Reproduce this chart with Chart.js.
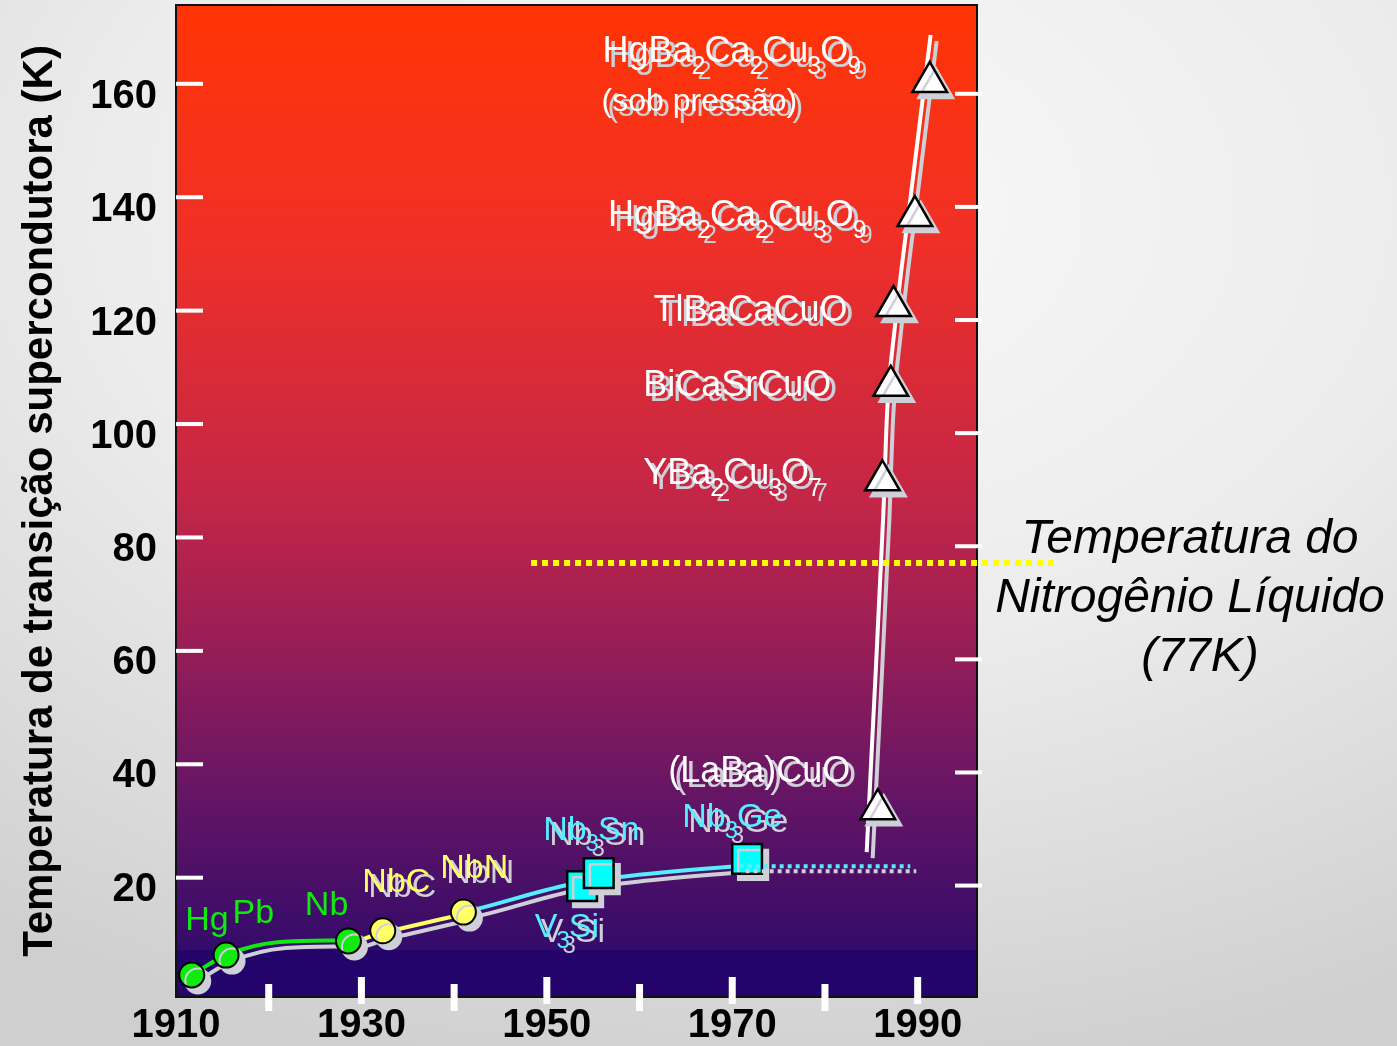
<!DOCTYPE html>
<html>
<head>
<meta charset="utf-8">
<script src="https://cdn.jsdelivr.net/npm/chart.js@4.4.0/dist/chart.umd.min.js"></script>
<style>
html, body { margin: 0; padding: 0; }
body {
    width: 1397px; height: 1046px; overflow: hidden;
    background: radial-gradient(ellipse 95% 85% at 55% 20%, #f9f9f9 0%, #ececec 50%, #cfcfcf 100%);
}
canvas { display: block; }
</style>
</head>
<body>
<canvas id="tcChart" width="1397" height="1046"></canvas>
<script>
// axis ticks
var yTickValues = [20, 40, 60, 80, 100, 120, 140, 160];
var xTickValues = [1910, 1930, 1950, 1970, 1990];
var xMajorMarks = [1930, 1950, 1970, 1990];
var xMinorMarks = [1920, 1940, 1960, 1980];

// metals (green circles)
var metalNames = ['Hg', 'Pb', 'Nb'];
var metalYears = [1911.7, 1915.4, 1928.6];
var metalTc = [4.9, 8.4, 10.9];

// carbide / nitride (yellow circles)
var nitrideNames = ['NbC', 'NbN'];
var nitrideYears = [1932.3, 1941.0];
var nitrideTc = [12.7, 16.0];

// A15 compounds (cyan squares)
var a15Names = ['V_3Si', 'Nb_3Sn', 'Nb_3Ge'];
var a15Years = [1953.8, 1955.6, 1971.6];
var a15Tc = [20.6, 22.9, 25.4];

// cuprates (white triangles)
var cuprateNames = ['(LaBa)CuO', 'YBa_2Cu_3O_7', 'BiCaSrCuO', 'TlBaCaCuO', 'HgBa_2Ca_2Cu_3O_9', 'HgBa_2Ca_2Cu_3O_9'];
var cuprateYears = [1985.7, 1986.2, 1987.1, 1987.4, 1989.7, 1991.3];
var cuprateTc = [34.2, 92.3, 109.0, 123.1, 139.0, 162.7];

// hand drawn trend curves
var metalCurveYears = [1911.7, 1915.4, 1921.2, 1928.0];
var metalCurveTc = [4.9, 8.4, 10.7, 11.0];
var nitrideCurveYears = [1929.1, 1932.3, 1934.5, 1940.6];
var nitrideCurveTc = [10.6, 12.4, 13.2, 15.5];
var a15CurveYears = [1941.0, 1942.8, 1952.2, 1957.9, 1969.8, 1971.6];
var a15CurveTc = [16.0, 16.7, 20.8, 22.2, 24.0, 24.2];
var cuprateCurveYears = [1984.5, 1985.1, 1986.3, 1986.7, 1987.5, 1989.4, 1991.4];
var cuprateCurveTc = [26.6, 46.4, 86.5, 104.2, 118.8, 144.5, 171.0];

// dotted levels
var a15LevelYears = [1970.8, 1989.2];
var a15LevelTc = [24.1, 24.1];
var nitrogenYears = [1948.3, 2004.7];
var nitrogenTc = [77.7, 77.7];

var FONT = '"Liberation Sans", Arial, Helvetica, sans-serif';
var SHADOW = '#cfcfd8';

function pts(xs, ys) {
    return xs.map(function (x, i) { return { x: x, y: ys[i] }; });
}

// text labels placed in data units (left edge, baseline)
var labelItems = [
    { text: metalNames[0], x: 1911.0, y: 12.8, color: '#10ea10', size: 34, shadow: false },
    { text: metalNames[1], x: 1916.1, y: 14.1, color: '#10ea10', size: 34, shadow: false },
    { text: metalNames[2], x: 1923.9, y: 15.5, color: '#10ea10', size: 34, shadow: false },
    { text: nitrideNames[0], x: 1930.1, y: 19.6, color: '#ffff66', size: 34, shadow: true },
    { text: nitrideNames[1], x: 1938.5, y: 22.0, color: '#ffff66', size: 34, shadow: true },
    { text: a15Names[0], x: 1948.7, y: 11.6, color: '#55eeff', size: 34, shadow: true },
    { text: a15Names[1], x: 1949.6, y: 28.7, color: '#55eeff', size: 34, shadow: true },
    { text: a15Names[2], x: 1964.6, y: 31.0, color: '#55eeff', size: 34, shadow: true },
    { text: cuprateNames[0], x: 1963.1, y: 39.0, color: '#ffffff', size: 36, shadow: true },
    { text: cuprateNames[1], x: 1960.4, y: 91.6, color: '#ffffff', size: 36, shadow: true },
    { text: cuprateNames[2], x: 1960.4, y: 107.2, color: '#ffffff', size: 36, shadow: true },
    { text: cuprateNames[3], x: 1961.5, y: 120.4, color: '#ffffff', size: 36, shadow: true },
    { text: cuprateNames[4], x: 1956.6, y: 137.2, color: '#ffffff', size: 36, shadow: true },
    { text: cuprateNames[5], x: 1956.0, y: 166.2, color: '#ffffff', size: 36, shadow: true },
    { text: '(sob pressão)', x: 1955.9, y: 157.5, color: '#ffffff', size: 32, shadow: true }
];

function drawFormula(ctx, text, x, y, size, color) {
    var re = /_(\d)|[^_]+/g, m;
    ctx.fillStyle = color;
    ctx.textAlign = 'left';
    ctx.textBaseline = 'alphabetic';
    while ((m = re.exec(text)) !== null) {
        if (m[1]) {
            var sub = Math.round(size * 0.7);
            ctx.font = sub + 'px ' + FONT;
            ctx.fillText(m[1], x - 1, y + size * 0.32);
            x += ctx.measureText(m[1]).width - 2;
        } else {
            ctx.font = size + 'px ' + FONT;
            ctx.fillText(m[0], x, y);
            x += ctx.measureText(m[0]).width;
        }
    }
}

var backdropPlugin = {
    id: 'backdrop',
    beforeDraw: function (chart) {
        var a = chart.chartArea, ctx = chart.ctx;
        var band = a.bottom - 47;
        var g = ctx.createLinearGradient(0, a.top, 0, band);
        g.addColorStop(0.00, 'rgb(255,52,4)');
        g.addColorStop(0.24, 'rgb(241,48,38)');
        g.addColorStop(0.52, 'rgb(196,38,70)');
        g.addColorStop(0.65, 'rgb(160,31,84)');
        g.addColorStop(0.82, 'rgb(106,22,100)');
        g.addColorStop(1.00, 'rgb(52,11,106)');
        ctx.save();
        ctx.fillStyle = g;
        ctx.fillRect(a.left, a.top, a.right - a.left, band - a.top);
        ctx.fillStyle = 'rgb(34,4,106)';
        ctx.fillRect(a.left, band, a.right - a.left, a.bottom - band);
        ctx.restore();
    },
    beforeDatasetsDraw: function (chart) {
        var a = chart.chartArea, ctx = chart.ctx;
        ctx.save();
        ctx.strokeStyle = '#111';
        ctx.lineWidth = 2;
        ctx.strokeRect(a.left, a.top, a.right - a.left, a.bottom - a.top);
        ctx.fillStyle = '#ffffff';
        yTickValues.forEach(function (v) {
            var py = chart.scales.yl.getPixelForValue(v);
            ctx.fillRect(a.left, py - 2, 27, 4);
            var pr = chart.scales.yr.getPixelForValue(v);
            ctx.fillRect(a.right - 22, pr - 2, 27, 4);
        });
        xMajorMarks.forEach(function (v) {
            var px = chart.scales.x.getPixelForValue(v);
            ctx.fillRect(px - 3.5, a.bottom - 20, 7, 27);
        });
        xMinorMarks.forEach(function (v) {
            var px = chart.scales.x.getPixelForValue(v);
            ctx.fillRect(px - 3.5, a.bottom - 13, 7, 27);
        });
        ctx.restore();
    },
    beforeDatasetDraw: function (chart, args) {
        var ds = chart.data.datasets[args.index];
        var ctx = chart.ctx;
        ctx.save();
        if (ds.shadowOffset) {
            ctx.shadowColor = SHADOW;
            ctx.shadowBlur = 0;
            ctx.shadowOffsetX = ds.shadowOffset[0];
            ctx.shadowOffsetY = ds.shadowOffset[1];
        }
    },
    afterDatasetDraw: function (chart) {
        chart.ctx.restore();
    },
    afterDraw: function (chart) {
        var ctx = chart.ctx, xs = chart.scales.x, ys = chart.scales.y;
        ctx.save();
        labelItems.forEach(function (l) {
            var px = xs.getPixelForValue(l.x), py = ys.getPixelForValue(l.y);
            if (l.shadow) drawFormula(ctx, l.text, px + 6, py + 5, l.size, SHADOW);
            drawFormula(ctx, l.text, px, py, l.size, l.color);
        });
        // liquid nitrogen note
        var ny = ys.getPixelForValue(nitrogenTc[0]);
        var cx = chart.chartArea.right + 213;
        ctx.fillStyle = '#000';
        ctx.textAlign = 'center';
        ctx.textBaseline = 'alphabetic';
        ctx.font = 'italic 48px ' + FONT;
        ctx.fillText('Temperatura do', cx, ny - 10);
        ctx.fillText('Nitrogênio Líquido', cx, ny + 49);
        ctx.fillText('(77K)', cx + 10, ny + 108);
        ctx.restore();
    }
};

var ctx = document.getElementById('tcChart').getContext('2d');
var tcChart = new Chart(ctx, {
    type: 'scatter',
    data: {
        datasets: [
            // curves
            { data: pts(metalCurveYears, metalCurveTc), showLine: true, borderColor: '#10ea10', borderWidth: 4, pointRadius: 0, cubicInterpolationMode: 'monotone', order: 6, shadowOffset: [6, 6] },
            { data: pts(nitrideCurveYears, nitrideCurveTc), showLine: true, borderColor: '#ffff66', borderWidth: 4, pointRadius: 0, cubicInterpolationMode: 'monotone', order: 6, shadowOffset: [6, 6] },
            { data: pts(a15CurveYears, a15CurveTc), showLine: true, borderColor: '#55eeff', borderWidth: 4, pointRadius: 0, cubicInterpolationMode: 'monotone', order: 6, shadowOffset: [6, 6] },
            { data: pts(cuprateCurveYears, cuprateCurveTc), showLine: true, borderColor: '#ffffff', borderWidth: 4, pointRadius: 0, cubicInterpolationMode: 'monotone', order: 6, shadowOffset: [6, 6] },
            // markers
            { data: pts(metalYears, metalTc), pointStyle: 'circle', pointRadius: 12.5, backgroundColor: '#10ea10', borderColor: '#000', borderWidth: 2, order: 3, shadowOffset: [6, 6] },
            { data: pts(nitrideYears, nitrideTc), pointStyle: 'circle', pointRadius: 12.5, backgroundColor: '#ffff66', borderColor: '#000', borderWidth: 2, order: 3, shadowOffset: [6, 6] },
            { data: pts(a15Years, a15Tc), pointStyle: 'rect', pointRadius: 21, backgroundColor: '#00ffff', borderColor: '#000', borderWidth: 2.5, order: 3, shadowOffset: [6, 6] },
            { data: pts(cuprateYears, cuprateTc), pointStyle: 'triangle', pointRadius: 20, backgroundColor: '#ffffff', borderColor: '#000', borderWidth: 2.5, order: 3, shadowOffset: [6, 6] },
            // dotted levels
            { data: pts(a15LevelYears, a15LevelTc), showLine: true, borderColor: '#55eeff', borderWidth: 4, borderDash: [4, 4], pointRadius: 0, order: 1, shadowOffset: [6, 5] },
            { data: pts(nitrogenYears, nitrogenTc), showLine: true, borderColor: '#ffff00', borderWidth: 6, borderDash: [6, 5], pointRadius: 0, order: 0, clip: false }
        ]
    },
    options: {
        responsive: false,
        animation: false,
        events: [],
        layout: { autoPadding: false, padding: { left: 0, top: 5, right: 420, bottom: 0 } },
        plugins: { legend: { display: false }, tooltip: { enabled: false } },
        scales: {
            x: {
                type: 'linear', position: 'bottom', min: 1910, max: 1996.4,
                grid: { display: false, drawTicks: false }, border: { display: false },
                afterBuildTicks: function (s) { s.ticks = xTickValues.map(function (v) { return { value: v }; }); },
                afterFit: function (s) { s.height = 49; s.paddingLeft = 0; s.paddingRight = 0; },
                ticks: {
                    color: '#000', padding: 5, maxRotation: 0, autoSkip: false,
                    font: { family: FONT, size: 40, weight: 'bold' },
                    callback: function (v) { return String(v); }
                }
            },
            y: {
                type: 'linear', position: 'left', min: 1.0, max: 176.3,
                grid: { display: false, drawTicks: false }, border: { display: false },
                afterBuildTicks: function (s) { s.ticks = yTickValues.map(function (v) { return { value: v }; }); },
                afterFit: function (s) { s.width = 176; s.paddingTop = 0; s.paddingBottom = 0; },
                ticks: {
                    color: '#000', padding: 19,
                    font: { family: FONT, size: 40, weight: 'bold' },
                    callback: function (v) { return String(v); }
                },
                title: {
                    display: true, text: 'Temperatura de transição supercondutora (K)', color: '#000',
                    font: { family: FONT, size: 42, weight: 'bold' }, padding: { top: 15, bottom: 0 }
                }
            },
            // reference scales for the white tick marks on each side
            yl: { type: 'linear', position: 'left', display: false, min: -1.04, max: 173.9 },
            yr: { type: 'linear', position: 'right', display: false, min: 0.3, max: 175.7 }
        }
    },
    plugins: [backdropPlugin]
});
</script>
</body>
</html>
